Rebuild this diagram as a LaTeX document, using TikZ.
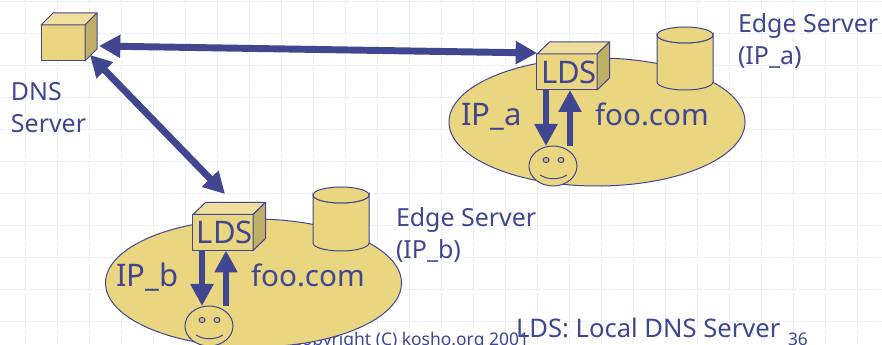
\documentclass[tikz,border=0pt]{standalone}
\usepackage{fontspec}
\setmainfont{Noto Sans}
\usetikzlibrary{arrows.meta,shapes.geometric}
\definecolor{ink}{HTML}{40468F}
\definecolor{sand}{HTML}{EAD680}
\definecolor{sandtop}{HTML}{F0DF9C}
\definecolor{sandside}{HTML}{BFAF66}
\definecolor{gridc}{HTML}{E8EDFA}
\newcommand{\fsz}[1]{\fontsize{#1}{#1}\selectfont}
\newcommand{\cubeparts}[3]{%
  \fill[sandtop,draw=ink,line width=.75pt,line join=round] (#1.north west) -- ([shift={(#2,-#3)}]#1.north west) -- ([shift={(#2,-#3)}]#1.north east) -- (#1.north east) -- cycle;
  \fill[sandside,draw=ink,line width=.75pt,line join=round] (#1.north east) -- ([shift={(#2,-#3)}]#1.north east) -- ([shift={(#2,-#3)}]#1.south east) -- (#1.south east) -- cycle;}
\newcommand{\smileyparts}[1]{%
  \draw[ink,line width=.75pt,fill=sandside!60!sand] ([shift={(-7,-6)}]#1.center) ellipse (3 and 2.5);
  \draw[ink,line width=.75pt,fill=sandside!60!sand] ([shift={(8,-6)}]#1.center) ellipse (3 and 2.5);
  \draw[ink,line width=.75pt] ([shift={(-13,9)}]#1.center) .. controls ([shift={(-5,14)}]#1.center) and ([shift={(6,14)}]#1.center) .. ([shift={(14,9)}]#1.center);}
\newcommand{\cylparts}[3]{%
  \path[fill=sand,draw=ink,line width=.75pt] (#1,#2) -- (#1,#3) arc[start angle=180,end angle=0,x radius=28,y radius=8] -- (#1+56,#2) arc[start angle=0,end angle=180,x radius=28,y radius=8] -- cycle;
  \path[fill=sand,draw=ink,line width=.75pt] (#1+28,#2) ellipse (28 and 8);}
\tikzset{
  x=.75pt,y=-.75pt,
  txt/.style={text=ink,anchor=base west,inner sep=0pt,outer sep=0pt},
  lab/.style={txt,font=\fsz{18.7pt}},
  big/.style={txt,font=\fsz{23.3pt}},
  dom/.style={txt,font=\fsz{22.2pt}},
  zone/.style={ellipse,draw=ink,fill=sand,line width=.75pt,minimum width=222pt,minimum height=96pt,inner sep=0pt,outer sep=0pt},
  face/.style={rectangle,draw=ink,fill=sand,line width=.75pt,inner sep=0pt,outer sep=0pt,text=ink,font=\fsz{23.3pt}},
  lds/.style={face,minimum width=45pt,minimum height=27pt},
  smiley/.style={ellipse,draw=ink,fill=sand,line width=.75pt,minimum width=36pt,minimum height=30pt,inner sep=0pt,outer sep=0pt},
  arr/.style={draw=ink,line width=5.2pt,-{Triangle[length=16.5pt,width=16.5pt]}},
  biarr/.style={draw=ink,line width=5.2pt,{Triangle[length=16pt,width=16.5pt]}-{Triangle[length=16pt,width=16.5pt]}},
  gridline/.style={draw=gridc,line width=.75pt,dash pattern=on 4pt off 1.5pt},
}
\begin{document}
\begin{tikzpicture}
\useasboundingbox (0,0) rectangle (882,345);
\clip (0,0) rectangle (882,345);
\fill[white] (0,0) rectangle (882,345);
\foreach \g in {-7,25,57,...,889} {\draw[gridline] (\g,0) -- (\g,345);}
\foreach \g in {2,34,66,...,354} {\draw[gridline] (0,\g) -- (882,\g);}
\node[txt,anchor=base east,font=\fsz{13.1pt}] (copy) at (529,346) {Copyright (C) kosho.org 2001};
\node[zone] (zoneA) at (597,122) {};
\node[zone] (zoneB) at (253.5,283) {};
\cylparts{657}{35}{82}
\cylparts{313}{195}{243}
\node[face,minimum width=33pt,minimum height=27pt] (dns) at (63,43) {};
\cubeparts{dns}{12}{12}
\node[lds] (ldsA) at (567,72) {\hspace*{3pt}LDS};
\cubeparts{ldsA}{12.5}{12}
\node[lds] (ldsB) at (223,232.5) {\hspace*{3pt}LDS};
\cubeparts{ldsB}{12.5}{12}
\node[smiley] (smileA) at (553,166) {};
\smileyparts{smileA}
\node[smiley] (smileB) at (209,326) {};
\smileyparts{smileB}
\coordinate (dnsE) at (99,46);
\coordinate (dnsS) at (90,55);
\coordinate (ldsAw) at (537,53);
\coordinate (ldsBn) at (225,194);
\draw[biarr] (dnsE) -- (ldsAw);
\draw[biarr] (dnsS) -- (ldsBn);
\draw[arr] ([xshift=-15.75pt]ldsA.south) -- ([xshift=-5.25pt]smileA.north);
\draw[arr] ([xshift=12.75pt]smileA.north) -- ([xshift=2.25pt]ldsA.south);
\draw[arr] ([xshift=-15.75pt]ldsB.south) -- ([xshift=-5.25pt]smileB.north);
\draw[arr] ([xshift=12.75pt]smileB.north) -- ([xshift=2.25pt]ldsB.south);
\node[lab] (dnsl1) at (11,101) {DNS};
\node[lab] (dnsl2) at (11,133) {Server};
\node[lab] (edgeA1) at (738,33) {Edge Server};
\node[lab] (edgeA2) at (738,65) {(IP\_a)};
\node[lab] (edgeB1) at (396,227) {Edge Server};
\node[lab] (edgeB2) at (396,259) {(IP\_b)};
\node[big] (ipA) at (461,126) {IP\_a};
\node[dom] (fooA) at (595,126) {foo.com};
\node[big] (ipB) at (116,287) {IP\_b};
\node[dom] (fooB) at (251,287) {foo.com};
\node[lab,font=\fsz{19.2pt}] (note) at (516,338) {LDS: Local DNS Server};
\node[txt,font=\fsz{13pt}] (page) at (788,345) {36};
\end{tikzpicture}
\end{document}
